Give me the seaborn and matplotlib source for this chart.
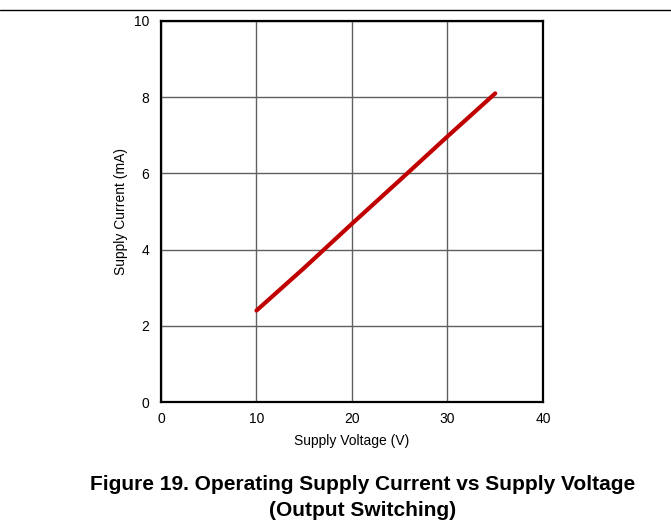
import matplotlib
matplotlib.use("Agg")
import matplotlib.pyplot as plt
import seaborn as sns
import pandas as pd

# values
supply_voltage = [10, 15, 20, 25, 30, 35]
supply_current = [2.4, 3.52, 4.68, 5.82, 6.97, 8.1]
x_ticks = [0, 10, 20, 30, 40]
y_ticks = [0, 2, 4, 6, 8, 10]

sns.set_style("white")
plt.rcParams['font.family'] = ['Liberation Sans', 'DejaVu Sans']
plt.rcParams['text.color'] = 'black'
plt.rcParams['axes.labelcolor'] = 'black'
plt.rcParams['xtick.color'] = 'black'
plt.rcParams['ytick.color'] = 'black'

df = pd.DataFrame({'V': supply_voltage, 'I': supply_current})

fig = plt.figure(figsize=(6.71, 5.21), dpi=100)
ax = fig.add_axes([0.2399, 0.2284, 0.5693, 0.7313])

sns.lineplot(data=df, x='V', y='I', ax=ax, color='#c00000', linewidth=3,
             solid_capstyle='round', zorder=3)

ax.set_xlim(0, 40)
ax.set_ylim(0, 10)
ax.set_xticks(x_ticks)
ax.set_yticks(y_ticks)
ax.grid(True, color='#606060', linewidth=1)
for s in ax.spines.values():
    s.set_color('black')
    s.set_linewidth(1.6)
    s.set_visible(True)
ax.tick_params(axis='both', length=0, labelsize=10)
ax.tick_params(axis='y', pad=8.5)
ax.tick_params(axis='x', pad=7)
ax.set_xlabel('Supply Voltage (V)', fontsize=10, labelpad=6)
ax.set_ylabel('Supply Current (mA)', fontsize=10, labelpad=4)

# page rule at top
fig.add_artist(plt.Line2D([0, 1], [1 - 9.5 / 521, 1 - 9.5 / 521], color='black', linewidth=1))

fig.text(363 / 671, 1 - 485 / 521, 'Figure 19. Operating Supply Current vs Supply Voltage',
         ha='center', va='center', fontsize=15, fontweight='bold')
fig.text(363 / 671, 1 - 511 / 521, '(Output Switching)',
         ha='center', va='center', fontsize=15, fontweight='bold')

fig.savefig('out.png', dpi=100)
